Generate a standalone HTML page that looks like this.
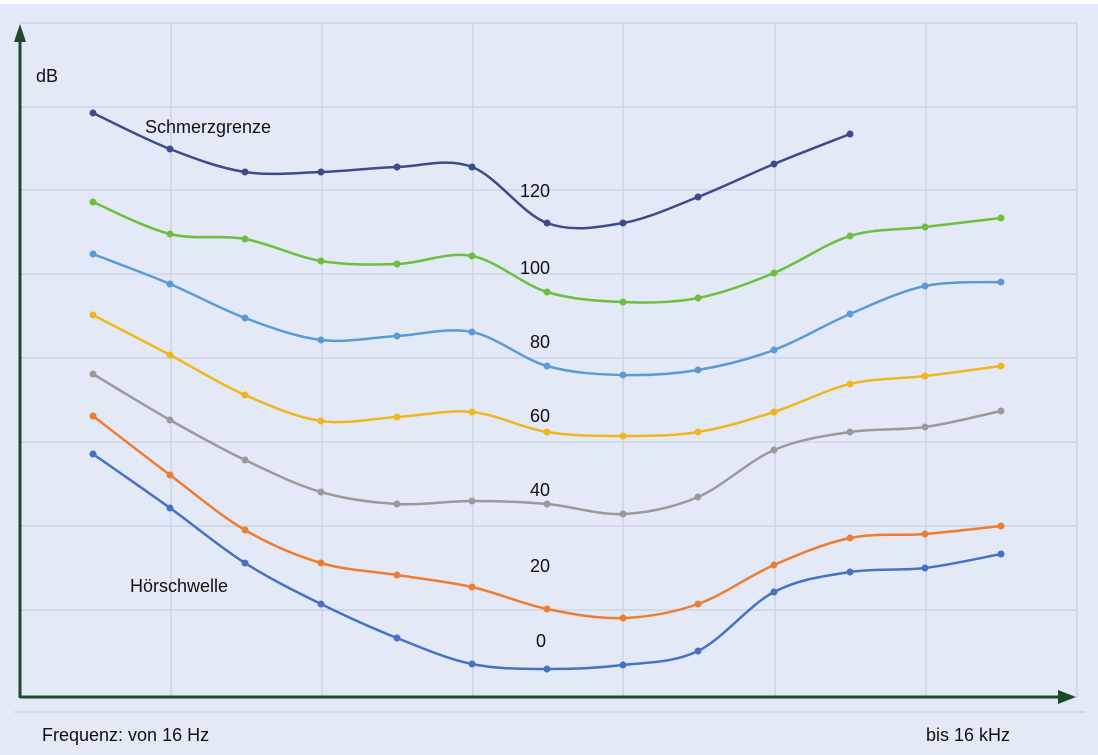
<!DOCTYPE html>
<html><head><meta charset="utf-8"><style>
html,body{margin:0;padding:0;background:#fff}
svg{display:block}
text{font-family:"Liberation Sans",sans-serif}
</style></head><body>
<svg id="s" width="1098" height="755" xmlns="http://www.w3.org/2000/svg">
<rect x="0" y="4" width="1098" height="751" fill="#e4e9f7"/>
<g stroke="#cfd4e2" stroke-width="1.5" fill="none">
<line x1="20" y1="23" x2="1077" y2="23"/>
<line x1="20" y1="107" x2="1077" y2="107"/>
<line x1="20" y1="190" x2="1077" y2="190"/>
<line x1="20" y1="274" x2="1077" y2="274"/>
<line x1="20" y1="358" x2="1077" y2="358"/>
<line x1="20" y1="442" x2="1077" y2="442"/>
<line x1="20" y1="526" x2="1077" y2="526"/>
<line x1="20" y1="610" x2="1077" y2="610"/>
<line x1="171" y1="23" x2="171" y2="698"/>
<line x1="322" y1="23" x2="322" y2="698"/>
<line x1="473" y1="23" x2="473" y2="698"/>
<line x1="623" y1="23" x2="623" y2="698"/>
<line x1="775" y1="23" x2="775" y2="698"/>
<line x1="926" y1="23" x2="926" y2="698"/>
<line x1="1077" y1="23" x2="1077" y2="698"/>
<line x1="14" y1="712" x2="1085" y2="712"/>
</g>
<line x1="20" y1="36" x2="20" y2="698" stroke="#1f4a2a" stroke-width="3"/>
<polygon points="14,42 20,24 26,42" fill="#1f4a2a"/>
<line x1="20" y1="697" x2="1062" y2="697" stroke="#1f4a2a" stroke-width="3"/>
<polygon points="1058,690 1076,697 1058,704" fill="#1f4a2a"/>
<g id="curves"></g>
<g font-size="18" fill="#111">
<text x="36" y="82">dB</text>
<text x="145" y="133">Schmerzgrenze</text>
<text x="130" y="592">Hörschwelle</text>
<text x="520" y="197">120</text>
<text x="520" y="274">100</text>
<text x="530" y="348">80</text>
<text x="530" y="422">60</text>
<text x="530" y="496">40</text>
<text x="530" y="572">20</text>
<text x="536" y="647">0</text>
<text x="42" y="741">Frequenz: von 16 Hz</text>
<text x="926" y="741">bis 16 kHz</text>
</g>
</svg>
<script>
var xs=[93,170,245,321,397,472,547,623,698,774,850,925,1001];
var S=[
["#3d4a8c",[113,149,172,172,167,167,223,223,197,164,134]],
["#6cbf3f",[202,234,239,261,264,256,292,302,298,273,236,227,218]],
["#5b9bd5",[254,284,318,340,336,332,366,375,370,350,314,286,282]],
["#f0b71a",[315,355,395,421,417,412,432,436,432,412,384,376,366]],
["#9a9a9a",[374,420,460,492,504,501,504,514,497,450,432,427,411]],
["#ed7d31",[416,475,530,563,575,587,609,618,604,565,538,534,526]],
["#4472c4",[454,508,563,604,638,664,669,665,651,592,572,568,554]]];
var g=document.getElementById("curves"),h="";
S.forEach(function(s){var c=s[0],y=s[1],p=[];for(var i=0;i<y.length;i++)p.push([xs[i],y[i]]);
var d="M"+p[0][0]+","+p[0][1];
for(var i=0;i<p.length-1;i++){var p0=p[i-1]||p[i],p1=p[i],p2=p[i+1],p3=p[i+2]||p2;
var t=0.5/3;
d+=" C"+(p1[0]+(p2[0]-p0[0])*t)+","+(p1[1]+(p2[1]-p0[1])*t)+" "+(p2[0]-(p3[0]-p1[0])*t)+","+(p2[1]-(p3[1]-p1[1])*t)+" "+p2[0]+","+p2[1];}
h+='<path d="'+d+'" fill="none" stroke="'+c+'" stroke-width="2.5"/>';
p.forEach(function(q){h+='<circle cx="'+q[0]+'" cy="'+q[1]+'" r="3.5" fill="'+c+'"/>';});});
g.innerHTML=h;
</script>
</body></html>
